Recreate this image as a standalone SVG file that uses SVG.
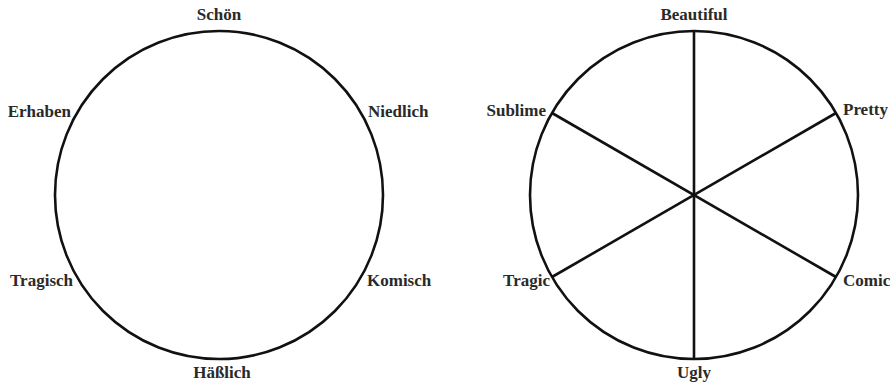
<svg xmlns="http://www.w3.org/2000/svg" width="894" height="384" viewBox="0 0 894 384">
<style>
.c{fill:none;stroke:#111;stroke-width:2.6}
.l{stroke:#111;stroke-width:2.6;fill:none}
text{font-family:"Liberation Serif","Times New Roman",serif;font-size:17px;font-weight:bold;fill:#2a2a2a}
.m{text-anchor:middle}
.e{text-anchor:end}
</style>
<rect width="894" height="384" fill="#fff"/>
<g id="left-wheel">
<circle class="c" cx="219" cy="195" r="164"/>
</g>
<g id="right-wheel">
<circle class="c" cx="694" cy="195" r="164"/>
</g>
<g id="connectors">
<line class="l" x1="694" y1="31" x2="694" y2="359"/>
<line class="l" x1="552" y1="113" x2="836" y2="277"/>
<line class="l" x1="552" y1="277" x2="836" y2="113"/>
</g>
<g id="schoen"><text class="m" x="219" y="20">Schön</text></g>
<g id="erhaben"><text class="e" x="71" y="117">Erhaben</text></g>
<g id="niedlich"><text x="368" y="117">Niedlich</text></g>
<g id="tragisch"><text class="e" x="73" y="286">Tragisch</text></g>
<g id="komisch"><text x="367" y="286">Komisch</text></g>
<g id="haesslich"><text class="m" x="222" y="378">Häßlich</text></g>
<g id="beautiful"><text class="m" x="694" y="20">Beautiful</text></g>
<g id="sublime"><text class="e" x="546" y="116">Sublime</text></g>
<g id="pretty"><text x="843" y="115">Pretty</text></g>
<g id="tragic"><text class="e" x="550" y="286">Tragic</text></g>
<g id="comic"><text x="843" y="286">Comic</text></g>
<g id="ugly"><text class="m" x="694" y="378">Ugly</text></g>
</svg>
